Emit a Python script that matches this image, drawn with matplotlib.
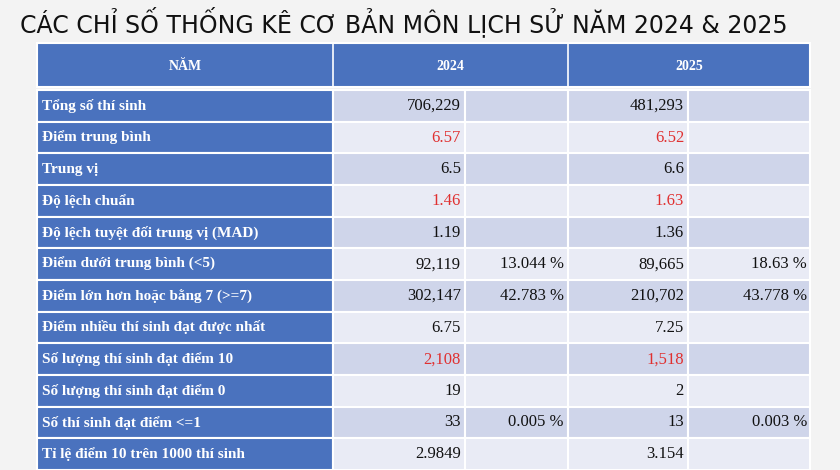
import matplotlib
matplotlib.use("Agg")
import matplotlib.pyplot as plt
from matplotlib.patches import Rectangle

title = "CÁC CHỈ SỐ THỐNG KÊ CƠ BẢN MÔN LỊCH SỬ NĂM 2024 & 2025"
header = ["NĂM", "2024", "2025"]
labels = ["Tổng số thí sinh", "Điểm trung bình", "Trung vị", "Độ lệch chuẩn",
          "Độ lệch tuyệt đối trung vị (MAD)", "Điểm dưới trung bình (<5)",
          "Điểm lớn hơn hoặc bằng 7 (>=7)", "Điểm nhiều thí sinh đạt được nhất",
          "Số lượng thí sinh đạt điểm 10", "Số lượng thí sinh đạt điểm 0",
          "Số thí sinh đạt điểm <=1", "Tỉ lệ điểm 10 trên 1000 thí sinh"]
v2024 = ["706,229", "6.57", "6.5", "1.46", "1.19", "92,119", "302,147", "6.75", "2,108", "19", "33", "2.9849"]
p2024 = ["", "", "", "", "", "13.044 %", "42.783 %", "", "", "", "0.005 %", ""]
v2025 = ["481,293", "6.52", "6.6", "1.63", "1.36", "89,665", "210,702", "7.25", "1,518", "2", "13", "3.154"]
p2025 = ["", "", "", "", "", "18.63 %", "43.778 %", "", "", "", "0.003 %", ""]
red_rows = [1, 3, 8]

W, H = 840, 470
fig = plt.figure(figsize=(W/100, H/100), dpi=100)
fig.patch.set_facecolor("#F3F3F3")
ax = fig.add_axes([0, 0, 1, 1])
ax.set_xlim(0, W); ax.set_ylim(H, 0); ax.axis("off")

ax.text(20, 22, title, fontsize=17, family="Liberation Sans Narrow", va="center", ha="left", color="#111111")

xs = [37, 333, 465, 568, 688, 810]
blue = "#4A72BE"
ax.add_patch(Rectangle((xs[0], 43), xs[-1]-xs[0], 44, fc=blue, ec="white", lw=1.5))
for x in (333, 568):
    ax.plot([x, x], [43, 87], color="white", lw=1.2)
serif = "Liberation Serif"
ax.text((xs[0]+xs[1])/2, 66, header[0], color="white", fontsize=10, weight="bold", family=serif, ha="center", va="center")
ax.text((xs[1]+xs[3])/2, 66, header[1], color="white", fontsize=10, weight="bold", family=serif, ha="center", va="center")
ax.text((xs[3]+xs[5])/2, 66, header[2], color="white", fontsize=10, weight="bold", family=serif, ha="center", va="center")

top, bot = 90, 470
n = len(labels)
rh = (bot - top) / n
for i in range(n):
    y0 = top + i*rh
    fc = "#CFD5EA" if i % 2 == 0 else "#E9EBF5"
    ax.add_patch(Rectangle((xs[0], y0), xs[1]-xs[0], rh, fc=blue, ec="white", lw=1.5))
    for j in range(1, 5):
        ax.add_patch(Rectangle((xs[j], y0), xs[j+1]-xs[j], rh, fc=fc, ec="white", lw=1.5))
    yc = y0 + rh/2
    ax.text(xs[0]+5, yc, labels[i], color="white", fontsize=11, weight="bold", family=serif, ha="left", va="center")
    col = "#E03030" if i in red_rows else "#111111"
    ax.text(xs[2]-4, yc, v2024[i], color=col, fontsize=12, family=serif, ha="right", va="center")
    ax.text(xs[3]-4, yc, p2024[i], color="#111111", fontsize=12, family=serif, ha="right", va="center")
    ax.text(xs[4]-4, yc, v2025[i], color=col, fontsize=12, family=serif, ha="right", va="center")
    ax.text(xs[5]-3, yc, p2025[i], color="#111111", fontsize=12, family=serif, ha="right", va="center")

fig.savefig("out.png", dpi=100, facecolor=fig.get_facecolor())
